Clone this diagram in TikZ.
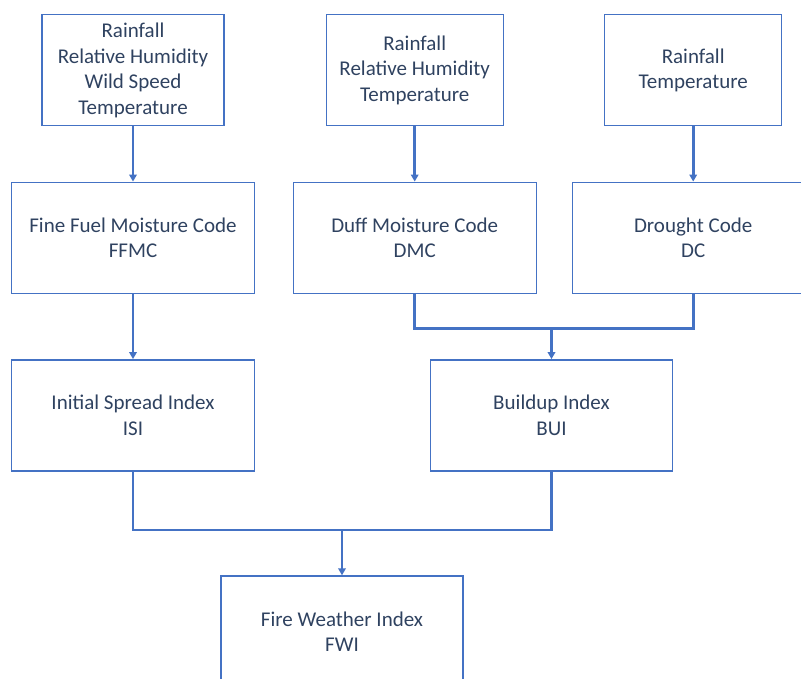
\documentclass[tikz,border=0pt]{standalone}
\usepackage{fontspec}
\setmainfont{Carlito}
\usetikzlibrary{arrows.meta}
\definecolor{boxblue}{HTML}{4472C4}
\definecolor{txtblue}{HTML}{2F4260}

\tikzset{
  idxbox/.style={draw=boxblue, line width=1.4pt, align=center, text=txtblue,
    minimum width=243pt, minimum height=111pt, inner sep=0pt,
    font=\fontsize{21}{25.5}\selectfont},
  link/.style={draw=boxblue, line width=2.6pt},
  flow/.style={link, -{Triangle[length=7pt,width=7.5pt]}}
}

\begin{document}
\begin{tikzpicture}[x=1pt, y=-1pt]
  \useasboundingbox (0,0) rectangle (801,679);

  \node[idxbox, minimum width=182pt] (wxA) at (133,70.2) {Rainfall\\Relative Humidity\\Wild Speed\\Temperature};
  \node[idxbox, minimum width=177pt] (wxB) at (414.7,70.2) {Rainfall\\Relative Humidity\\Temperature};
  \node[idxbox, minimum width=177pt] (wxC) at (693.2,70.2) {Rainfall\\Temperature};

  \node[idxbox] (ffmc) at (133,237.8) {Fine Fuel Moisture Code\\FFMC};
  \node[idxbox] (dmc) at (414.7,237.8) {Duff Moisture Code\\DMC};
  \node[idxbox, minimum width=241pt] (dc) at (693.2,237.8) {Drought Code\\DC};

  \node[idxbox] (isi) at (133,415.3) {Initial Spread Index\\ISI};
  \node[idxbox, minimum width=241.6pt] (bui) at (551.5,415.3) {Buildup Index\\BUI};

  \node[idxbox, minimum width=241.7pt] (fwi) at (342,631.5) {Fire Weather Index\\FWI};

  \coordinate (bjoin) at (551.5,328.3);
  \coordinate (fjoin) at (342,530);

  \draw[flow] (wxA) -- (ffmc);
  \draw[flow] (wxB) -- (dmc);
  \draw[flow] (wxC) -- (dc);
  \draw[flow] (ffmc) -- (isi);

  \draw[link] (dmc.south) |- (bjoin) -| (dc.south);
  \draw[flow] (bjoin) -- (bui.north);

  \draw[link] (isi.south) |- (fjoin) -| (bui.south);
  \draw[flow] (fjoin) -- (fwi.north);
\end{tikzpicture}
\end{document}
